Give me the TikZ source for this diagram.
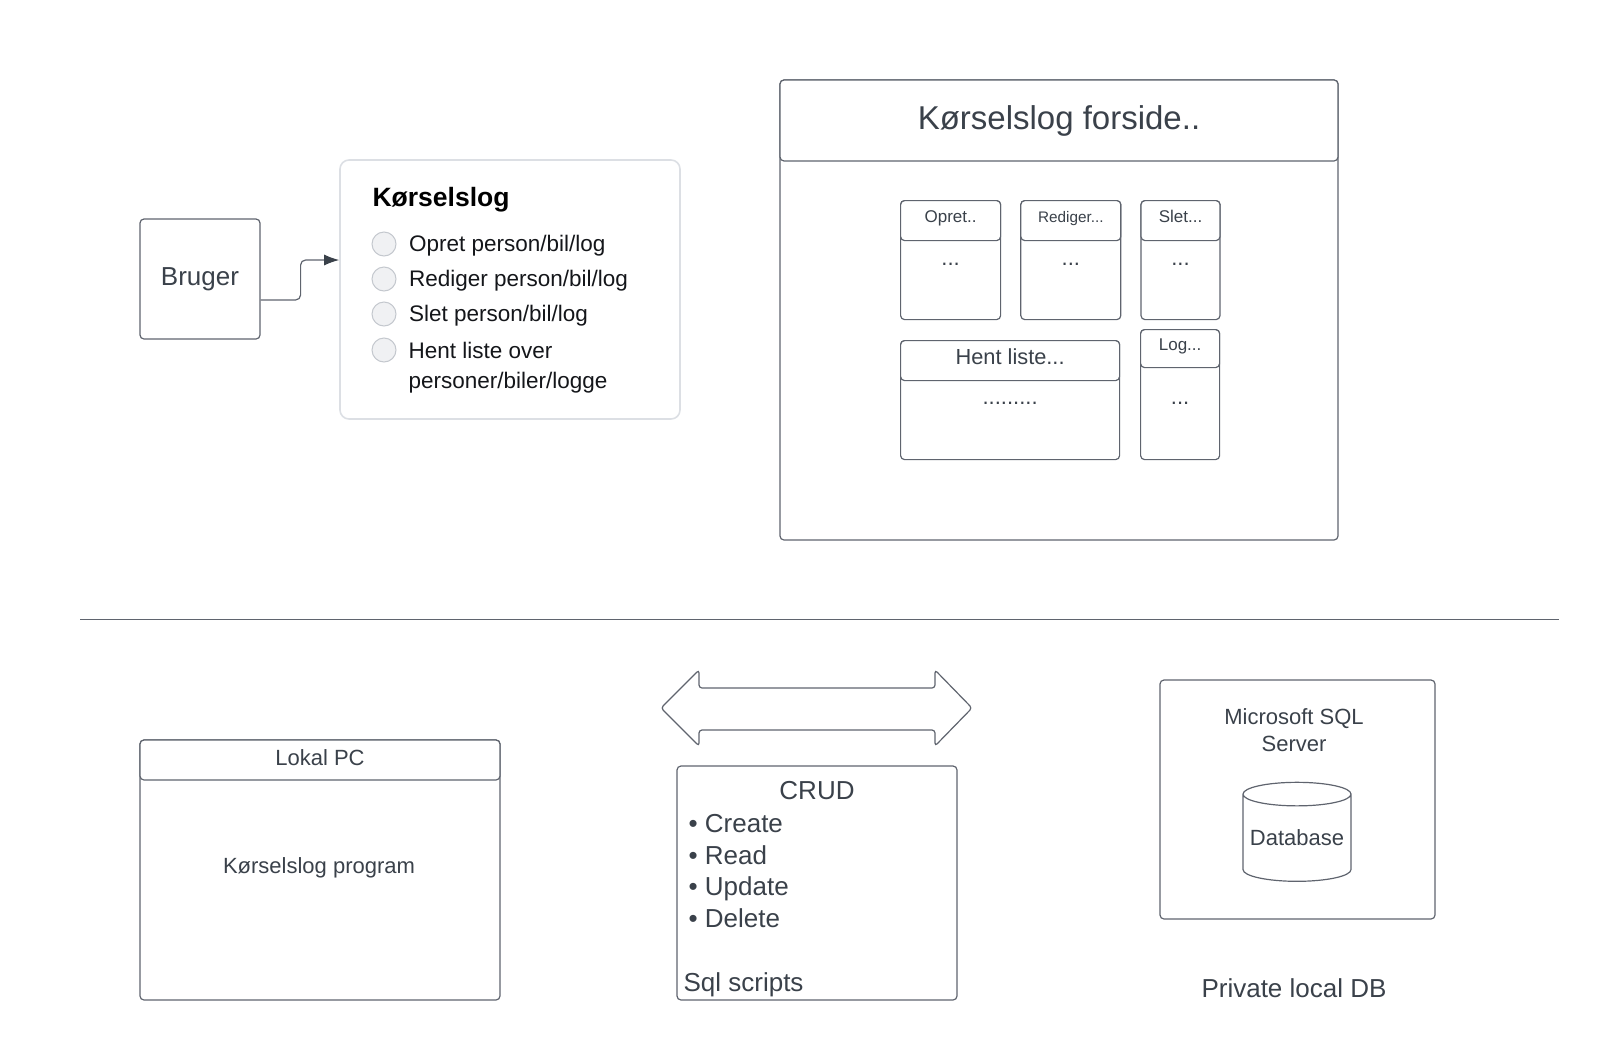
\documentclass[tikz,border=0pt]{standalone}
\usepackage{fontspec}
\setmainfont{Liberation Sans}
\usetikzlibrary{positioning,arrows.meta,shapes.geometric}

\definecolor{linegray}{RGB}{95,100,110}
\definecolor{textgray}{RGB}{58,65,74}
\definecolor{panelgray}{RGB}{220,223,228}
\definecolor{radiofill}{RGB}{240,241,243}
\definecolor{radioline}{RGB}{196,200,206}
\definecolor{optblack}{RGB}{20,22,26}

\begin{document}
\begin{tikzpicture}[x=1pt, y=-1pt, line width=1.2pt,
    box/.style={draw=linegray, rounded corners=4pt, inner sep=0pt},
    head/.style={box, fill=white, anchor=north},
    panel/.style={draw=panelgray, line width=1.6pt, rounded corners=9pt, inner sep=0pt},
    radio/.style={circle, draw=radioline, fill=radiofill, line width=1pt, minimum size=24pt, inner sep=0pt},
    opt/.style={font=\fontsize{22.5}{30}\selectfont, text=optblack, inner sep=0pt},
    tsmall/.style={font=\fontsize{17}{20}\selectfont, text=textgray, text height=10pt, text depth=6pt},
    tdots/.style={font=\fontsize{22}{26}\selectfont, text=textgray},
    tmid/.style={font=\fontsize{22}{27}\selectfont, text=textgray},
    tbig/.style={font=\fontsize{26}{31.5}\selectfont, text=textgray},
    conn/.style={draw=linegray, -{Latex[length=15pt,width=11pt,color=textgray]}}]
    \useasboundingbox (0,0) rectangle (1600,1063);

    % bruger og menu
    \node[box, tbig, minimum width=120pt, minimum height=120pt] (bruger) at (200,279) {Bruger};
    \node[panel, minimum width=340pt, minimum height=259pt] (menu) at (510,289.5) {};
    \node[anchor=west, inner sep=0pt, font=\bfseries\fontsize{26.5}{30}\selectfont, text=black] (menutitle) at (372,200) {Kørselslog};
    \node[radio] (r1) at (384,244) {};
    \node[radio] (r2) at (384,279) {};
    \node[radio] (r3) at (384,314) {};
    \node[radio] (r4) at (384,350) {};
    \node[opt, right=12pt of r1, yshift=-2pt] (o1) {Opret person/bil/log};
    \node[opt, right=12pt of r2, yshift=-2pt] (o2) {Rediger person/bil/log};
    \node[opt, right=12pt of r3, yshift=-2pt] (o3) {Slet person/bil/log};
    \node[opt, align=left, anchor=north west] (o4) at (408,342) {Hent liste over\\personer/biler/logge};

    \draw[conn, rounded corners=5pt] ([yshift=-21pt]bruger.east) -- ++(40,0) |- ([yshift=29.5pt]menu.west);

    % forside
    \node[box, minimum width=558pt, minimum height=460pt] (forside) at (1059,310) {};
    \node[head, minimum width=558pt, minimum height=81pt, font=\fontsize{33}{38}\selectfont, text=textgray] (forsidehead) at (forside.north) {Kørselslog forside..};

    \node[box, anchor=north west, minimum width=100pt, minimum height=119pt] (opret) at (900,200) {};
    \node[box, minimum width=100pt, minimum height=119pt, right=19pt of opret] (rediger) {};
    \node[box, minimum width=79pt, minimum height=119pt, right=19pt of rediger] (slet) {};
    \node[box, anchor=north west, minimum width=219pt, minimum height=119pt] (hent) at (900,340) {};
    \node[box, anchor=north west, minimum width=79pt, minimum height=130pt] (log) at (1140,329) {};

    \node[head, tsmall, minimum width=100pt, minimum height=40pt] (opreth) at (opret.north) {Opret..};
    \node[head, tsmall, minimum width=100pt, minimum height=40pt, font=\fontsize{15.3}{18}\selectfont] (redigerh) at (rediger.north) {Rediger...};
    \node[head, tsmall, minimum width=79pt, minimum height=40pt] (sleth) at (slet.north) {Slet...};
    \node[head, minimum width=219pt, minimum height=40pt, font=\fontsize{21.8}{26}\selectfont, text=textgray, text height=15pt, text depth=7pt] (henth) at (hent.north) {Hent liste...};
    \node[head, tsmall, minimum width=79pt, minimum height=38pt] (logh) at (log.north) {Log...};

    \node[tdots, anchor=base] (opretdots) at ([yshift=-24pt]opreth.south) {...};
    \node[tdots, anchor=base] (redigerdots) at ([yshift=-24pt]redigerh.south) {...};
    \node[tdots, anchor=base] (sletdots) at ([yshift=-24pt]sleth.south) {...};
    \node[tdots, anchor=base] (hentdots) at ([yshift=-23pt]henth.south) {.........};
    \node[tdots, anchor=base] (logdots) at ([yshift=-36pt]logh.south) {...};

    % skillelinje
    \coordinate (divL) at (80,619);
    \coordinate (divR) at (1559,619);
    \draw[linegray, line width=1pt] (divL) -- (divR);

    % lokal pc
    \node[box, minimum width=360pt, minimum height=260pt] (pc) at (320,870) {};
    \node[head, tmid, minimum width=360pt, minimum height=40pt, text height=15pt, text depth=5pt] (pchead) at (pc.north) {Lokal PC};
    \node[tmid] (program) at (319,868) {Kørselslog program};

    % crud
    \draw[linegray, rounded corners=3pt] (661,708) -- (699,670) -- (699,688) -- (935,688) -- (935,670)
        -- (972,708) -- (935,746) -- (935,730) -- (699,730) -- (699,746) -- cycle;
    \node[box, minimum width=280pt, minimum height=234pt] (crud) at (817,883) {};
    \node[tbig] (crudtitle) at (817,791) {CRUD};
    \node[tbig, align=left, anchor=west, inner sep=0pt] (crudlist) at (688,871) {\textbullet\ Create\\\textbullet\ Read\\\textbullet\ Update\\\textbullet\ Delete};
    \node[tbig, anchor=west, inner sep=0pt] (sql) at (683,985) {Sql scripts};

    % database
    \node[box, minimum width=275pt, minimum height=239pt] (server) at (1297.5,799.5) {};
    \node[tmid, align=center] (servertitle) at (1294,730) {Microsoft SQL\\Server};
    \node[draw=linegray, cylinder, shape border rotate=90, aspect=0.25, minimum width=108pt, minimum height=99pt, inner sep=0pt, tmid] (db) at (1297,838) {Database};
    \node[tbig] (private) at (1294,988) {Private local DB};
\end{tikzpicture}
\end{document}
